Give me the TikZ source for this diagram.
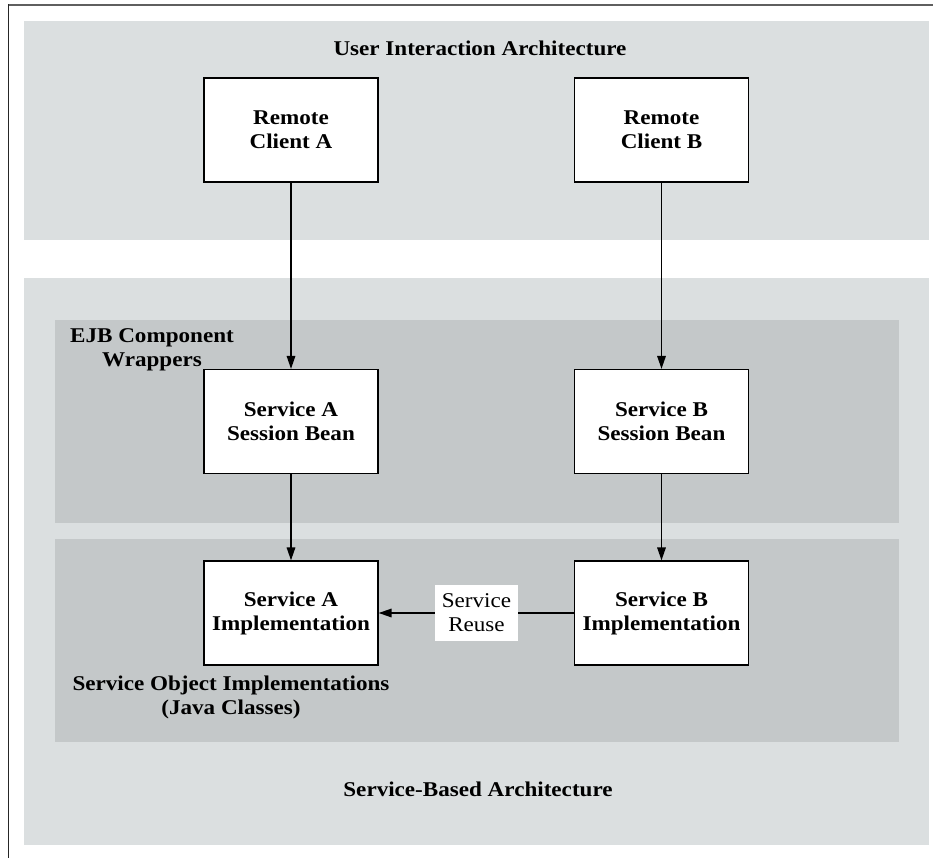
\documentclass[tikz,border=0pt]{standalone}
\usepackage{fontspec}
\setmainfont[FakeStretch=1.1]{Liberation Serif}
\usetikzlibrary{arrows.meta}
\definecolor{bandlight}{HTML}{DBDFE0}
\definecolor{banddark}{HTML}{C4C8C9}
\definecolor{framegray}{HTML}{5F5F5F}
\tikzset{
  box/.style={draw=black, line width=1.2pt, fill=white, minimum width=174pt,
    minimum height=104pt, inner sep=0pt, align=center,
    font=\fontsize{21}{24}\selectfont\bfseries},
  lbl/.style={align=center, inner sep=0pt, font=\fontsize{21}{24}\selectfont\bfseries},
  reusebox/.style={fill=white, minimum width=83pt, minimum height=56pt, inner sep=0pt,
    align=center, font=\fontsize{21}{24}\selectfont},
  conn/.style={line width=1.6pt, -{Triangle[length=13pt,width=8.5pt]}},
}
\begin{document}
\begin{tikzpicture}[x=1pt,y=-1pt]
\useasboundingbox (0,0) rectangle (933,858);
% bands
\fill[bandlight] (24,21) rectangle (929,240);
\fill[bandlight] (24,278) rectangle (929,845);
\fill[banddark] (55,320) rectangle (899,523);
\fill[banddark] (55,539) rectangle (899,742);
% frame
\draw[framegray, line width=1.7pt] (933,5) -- (7.5,5);
\draw[black!85, line width=1pt] (8,4.2) -- (8,858);
% boxes
\node[box] (rca) at (291,130) {Remote\\Client A};
\node[box] (rcb) at (661.5,130) {Remote\\Client B};
\node[box] (sab) at (291,421.5) {Service A\\Session Bean};
\node[box] (sbb) at (661.5,421.5) {Service B\\Session Bean};
\node[box] (sai) at (291,613) {Service A\\Implementation};
\node[box] (sbi) at (661.5,613) {Service B\\Implementation};
% connectors
\draw[conn] (rca) -- (sab);
\draw[conn] (rcb) -- (sbb);
\draw[conn] (sab) -- (sai);
\draw[conn] (sbb) -- (sbi);
\draw[conn] (sbi.west) -- (sai.east);
\node[reusebox] (reuse) at (476.5,613) {Service\\Reuse};
% labels
\node[lbl, anchor=base] (uia) at (480,56) {User Interaction Architecture};
\node[lbl] (ejb) at (152,350) {EJB Component\\Wrappers};
\node[lbl] (soi) at (231,697) {Service Object Implementations\\(Java Classes)};
\node[lbl, anchor=base] (sba) at (478,796) {Service-Based Architecture};
\end{tikzpicture}
\end{document}
